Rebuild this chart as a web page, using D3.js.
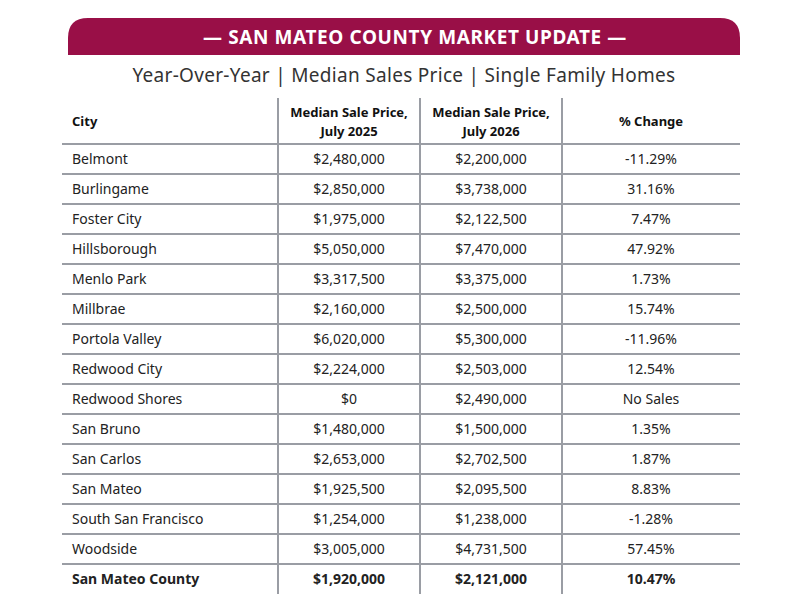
<!DOCTYPE html>
<html>
<head>
<meta charset="utf-8">
<script src="https://cdn.jsdelivr.net/npm/d3@7"></script>
<style>body{margin:0;background:#fff}</style>
</head>
<body>
<div id="chart"></div>
<script>
var cities = ["Belmont","Burlingame","Foster City","Hillsborough","Menlo Park","Millbrae","Portola Valley","Redwood City","Redwood Shores","San Bruno","San Carlos","San Mateo","South San Francisco","Woodside","San Mateo County"];
var price2025 = [2480000,2850000,1975000,5050000,3317500,2160000,6020000,2224000,0,1480000,2653000,1925500,1254000,3005000,1920000];
var price2026 = [2200000,3738000,2122500,7470000,3375000,2500000,5300000,2503000,2490000,1500000,2702500,2095500,1238000,4731500,2121000];
var pctChange = ["-11.29%","31.16%","7.47%","47.92%","1.73%","15.74%","-11.96%","12.54%","No Sales","1.35%","1.87%","8.83%","-1.28%","57.45%","10.47%"];
var headers = [["City"],["Median Sale Price,","July 2025"],["Median Sale Price,","July 2026"],["% Change"]];

var W = 800, H = 600;
var svg = d3.select("#chart").append("svg").attr("width", W).attr("height", H)
  .style("font-family", "'Noto Sans', sans-serif");

// banner with rounded top corners
var bx0 = 68, bx1 = 740, by0 = 18, by1 = 55, r = 20;
svg.append("path")
  .attr("d", `M${bx0},${by1} L${bx0},${by0+r} Q${bx0},${by0} ${bx0+r},${by0} L${bx1-r},${by0} Q${bx1},${by0} ${bx1},${by0+r} L${bx1},${by1} Z`)
  .attr("fill", "#990f47");
svg.append("text").attr("x", 415).attr("y", 44).attr("text-anchor", "middle")
  .attr("fill", "#fff").attr("font-size", 19).attr("font-weight", "bold")
  .attr("letter-spacing", 0.6).text("— SAN MATEO COUNTY MARKET UPDATE —");
svg.append("text").attr("x", 404).attr("y", 82).attr("text-anchor", "middle")
  .attr("fill", "#333").attr("font-size", 19).attr("letter-spacing", 0.3)
  .text("Year-Over-Year | Median Sales Price | Single Family Homes");

var fmt = v => "$" + d3.format(",")(v);
var rows = cities.map((c, i) => [c, fmt(price2025[i]), fmt(price2026[i]), pctChange[i]]);

var x = d3.scaleOrdinal().domain([0,1,2,3,4]).range([62,278,420,562,740]);
var headTop = 98, headBot = 144;
var y = d3.scaleBand().domain(d3.range(rows.length)).range([headBot, headBot + 30*rows.length]);
var lineColor = "#9a9da4";

// horizontal lines
svg.selectAll("line.h").data(d3.range(rows.length)).enter().append("line")
  .attr("x1", 62).attr("x2", 740)
  .attr("y1", i => y(i)).attr("y2", i => y(i))
  .attr("stroke", lineColor).attr("stroke-width", 2);
// vertical lines
svg.selectAll("line.v").data([1,2,3]).enter().append("line")
  .attr("x1", d => x(d)).attr("x2", d => x(d))
  .attr("y1", headTop).attr("y2", y(rows.length-1) + y.bandwidth())
  .attr("stroke", lineColor).attr("stroke-width", 2);

// headers
headers.forEach(function(h, c) {
  var cx = c === 0 ? 72 : (x(c) + x(c+1)) / 2;
  var t = svg.append("text").attr("text-anchor", c === 0 ? "start" : "middle")
    .attr("font-size", 13).attr("font-weight", "bold").attr("fill", "#111");
  var y0 = h.length === 1 ? 126 : 117;
  h.forEach((s, k) => t.append("tspan").attr("x", cx).attr("y", y0 + k*19).text(s));
});

// cells
rows.forEach(function(row, i) {
  row.forEach(function(v, c) {
    svg.append("text")
      .attr("x", c === 0 ? 72 : (x(c) + x(c+1)) / 2)
      .attr("y", y(i) + y.bandwidth()/2 + 5)
      .attr("text-anchor", c === 0 ? "start" : "middle")
      .attr("font-size", 14)
      .attr("font-weight", i === rows.length-1 ? "bold" : "normal")
      .attr("fill", "#222").text(v);
  });
});
</script>
</body>
</html>
